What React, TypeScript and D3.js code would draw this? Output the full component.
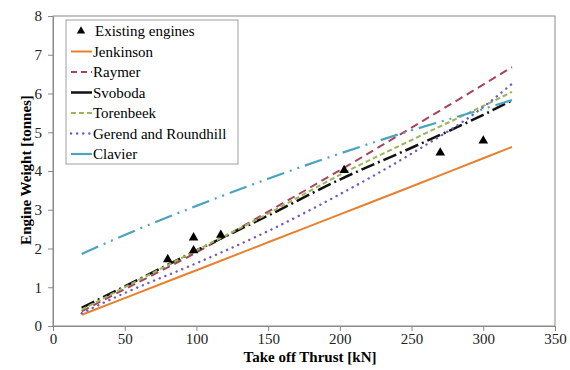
import React, { useEffect, useRef } from 'react';
import * as d3 from 'd3';

// thrust values (kN) where the correlation curves are sampled
const thrust = [20, 50, 100, 150, 200, 250, 300, 320];

const jenkinson = [0.29, 0.72, 1.44, 2.16, 2.88, 3.6, 4.33, 4.62];
const raymer = [0.38, 0.95, 1.9, 2.95, 4.02, 5.12, 6.23, 6.68];
const svoboda = [0.47, 1.02, 1.95, 2.85, 3.78, 4.6, 5.45, 5.82];
const torenbeek = [0.42, 1.0, 1.95, 2.9, 3.9, 4.8, 5.68, 6.04];
const gerend = [0.33, 0.85, 1.62, 2.45, 3.4, 4.45, 5.65, 6.25];
const clavier = [1.86, 2.35, 3.1, 3.8, 4.45, 5.05, 5.6, 5.83];

// existing engines [thrust kN, weight tonnes]
const engineThrust = [80, 98, 98, 117, 203, 270, 300];
const engineWeight = [1.72, 2.28, 1.95, 2.35, 4.02, 4.47, 4.78];

const xTicks = [0, 50, 100, 150, 200, 250, 300, 350];
const yTicks = [0, 1, 2, 3, 4, 5, 6, 7, 8];

const series = [
  { name: 'Jenkinson', values: jenkinson, color: '#E8802F', dash: null, legendDash: null, width: 2 },
  { name: 'Raymer', values: raymer, color: '#A8445A', dash: '8,5', legendDash: '6,4', width: 2 },
  { name: 'Svoboda', values: svoboda, color: '#111111', dash: '14,4,2,4', legendDash: null, width: 2.5 },
  { name: 'Torenbeek', values: torenbeek, color: '#9BB55A', dash: '5,3', legendDash: '5,3', width: 2 },
  { name: 'Gerend and Roundhill', values: gerend, color: '#6A5CC8', dash: '0.1,6', legendDash: '0.1,6', width: 2.4, round: true },
  { name: 'Clavier', values: clavier, color: '#4BA3BE', dash: '18,6,2,6,2,6', legendDash: null, width: 2.2 },
];

const W = 570, H = 370;
const margin = { left: 53, right: 15, top: 16, bottom: 44 };
const font = "'Liberation Serif', Tinos, 'Times New Roman', serif";

function App() {
  const ref = useRef<SVGSVGElement>(null);

  useEffect(() => {
    const svg = d3.select(ref.current);
    svg.selectAll('*').remove();

    const x = d3.scaleLinear().domain([0, 350]).range([margin.left, W - margin.right]);
    const y = d3.scaleLinear().domain([0, 8]).range([H - margin.bottom, margin.top]);

    // plot frame
    svg.append('rect')
      .attr('x', x(0)).attr('y', y(8))
      .attr('width', x(350) - x(0)).attr('height', y(0) - y(8))
      .attr('fill', 'none').attr('stroke', '#8a8a8a').attr('stroke-width', 1);

    const xAxis = svg.append('g')
      .attr('transform', 'translate(0,' + y(0) + ')')
      .call(d3.axisBottom(x).tickValues(xTicks).tickSize(5).tickPadding(2));
    const yAxis = svg.append('g')
      .attr('transform', 'translate(' + x(0) + ',0)')
      .call(d3.axisLeft(y).tickValues(yTicks).tickSize(5).tickPadding(6));

    [xAxis, yAxis].forEach(function (g) {
      g.attr('font-family', null).attr('font-size', null);
      g.selectAll('path, line').attr('stroke', '#8a8a8a');
      g.selectAll('text')
        .style('font-family', font).style('font-size', '15px').attr('fill', '#222');
    });

    const line = d3.line<number>()
      .x(function (d, i) { return x(thrust[i]); })
      .y(function (d) { return y(d); })
      .curve(d3.curveMonotoneX);

    series.forEach(function (s) {
      svg.append('path')
        .attr('d', line(s.values))
        .attr('fill', 'none')
        .attr('stroke', s.color)
        .attr('stroke-width', s.width)
        .attr('stroke-linecap', s.round ? 'round' : 'butt')
        .attr('stroke-dasharray', s.dash);
    });

    const tri = d3.symbol().type(d3.symbolTriangle).size(40);
    svg.append('g').selectAll('path')
      .data(engineThrust)
      .enter().append('path')
      .attr('d', tri)
      .attr('transform', function (d, i) { return 'translate(' + x(d) + ',' + y(engineWeight[i]) + ')'; })
      .attr('fill', '#000');

    // legend
    const lg = svg.append('g');
    lg.append('rect')
      .attr('x', 66).attr('y', 20).attr('width', 172).attr('height', 144)
      .attr('fill', '#fff').attr('stroke', '#a0a0a0').attr('stroke-width', 1);
    const rowY = (i: number) => 31 + i * 20.5;
    lg.append('path')
      .attr('d', d3.symbol().type(d3.symbolTriangle).size(30))
      .attr('transform', 'translate(81,' + rowY(0) + ')')
      .attr('fill', '#000');
    lg.append('text')
      .attr('x', 95).attr('y', rowY(0)).attr('dy', '0.35em')
      .style('font-family', font).style('font-size', '15px').text('Existing engines');
    series.forEach(function (s, i) {
      const yy = rowY(i + 1);
      lg.append('line')
        .attr('x1', 71).attr('x2', 92).attr('y1', yy).attr('y2', yy)
        .attr('stroke', s.color).attr('stroke-width', s.width)
        .attr('stroke-linecap', s.round ? 'round' : 'butt')
        .attr('stroke-dasharray', s.legendDash);
      lg.append('text')
        .attr('x', 93).attr('y', yy).attr('dy', '0.35em')
        .style('font-family', font).style('font-size', '15px').text(s.name);
    });

    // axis titles
    svg.append('text')
      .attr('x', 310).attr('y', 362)
      .attr('text-anchor', 'middle')
      .style('font-family', font).style('font-size', '15px').style('font-weight', 'bold')
      .text('Take off Thrust [kN]');
    svg.append('text')
      .attr('transform', 'translate(31,170) rotate(-90)')
      .attr('text-anchor', 'middle')
      .style('font-family', font).style('font-size', '15px').style('font-weight', 'bold')
      .text('Engine Weight [tonnes]');
  }, []);

  return (
    <svg ref={ref} width={W} height={H}
      style={{ position: 'absolute', left: 0, top: 0, background: '#fff' }} />
  );
}

export default App;
